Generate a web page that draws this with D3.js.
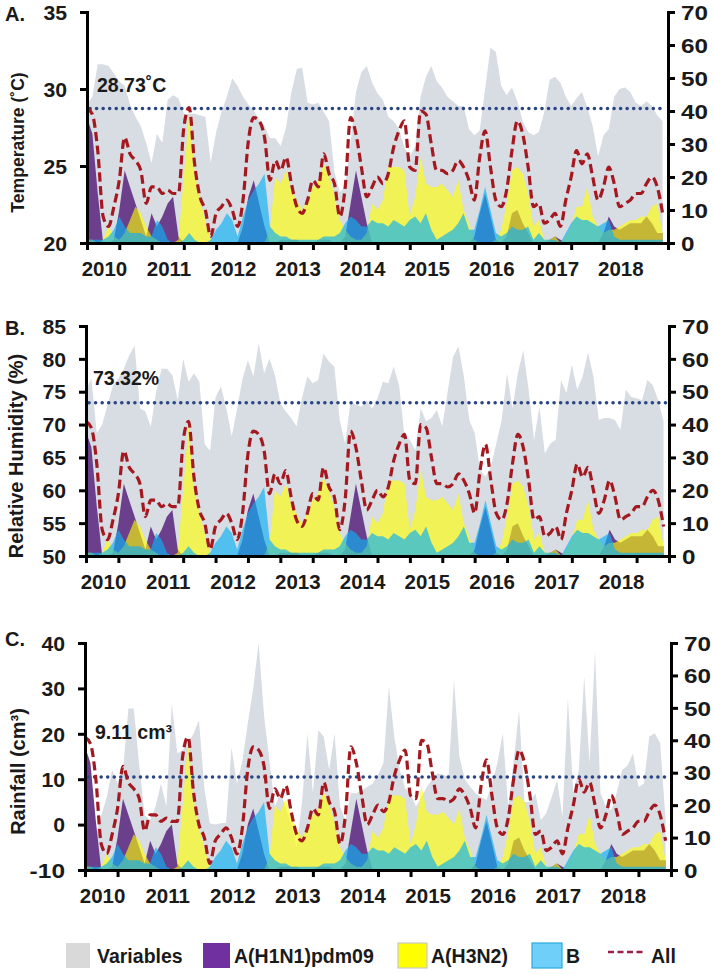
<!DOCTYPE html>
<html><head><meta charset="utf-8">
<script src="https://cdn.jsdelivr.net/npm/d3@7"></script>
<style>
body{margin:0;background:#fff}
svg{display:block}
text{font-family:"Liberation Sans",Arial,Helvetica,sans-serif}
</style>
</head><body>
<svg id="chart" width="714" height="974"></svg>
<script>
// ---------------- DATA ----------------
const years = [2010, 2011, 2012, 2013, 2014, 2015, 2016, 2017, 2018];
const xTickLabels = ["2010", "2011", "2012", "2013", "2014", "2015", "2016", "2017", "2018"];

// Influenza positives (right axis, 0-70), monthly Jan 2010 - Dec 2018
const allFlu = [
  41,39,28,8,5,11,19,32,27,25,22,12,
  17,17,15,16,15,15,35,41,24,14,10,2,
  9,11,13,10,5,13,31,38,37,32,19,25,
  22,26,18,11,9,13,19,17,27,21,18,8,
  17,38,33,23,14,17,20,18,21,29,34,37,
  23,22,40,39,30,22,22,21,22,25,23,19,
  13,26,34,23,13,11,16,28,37,33,23,11,
  12,6,7,9,5,13,20,28,24,27,20,13,
  17,23,18,11,12,13,15,15,18,20,17,9
];
const h1n1 = [
  38,33,15,0,0,1,10,22,17,12,7,2,
  9,5,8,12,14,2,0,0,0,0,0,0,
  0,0,0,0,0,5,14,19,12,5,0,0,
  1,1,1,1,0,0,0,1,1,1,0,0,
  2,12,22,14,6,0,0,0,0,0,0,0,
  0,0,0,0,0,0,0,0,0,0,0,0,
  2,9,15,8,1,0,2,9,10,6,3,0,
  0,0,1,2,1,0,0,0,0,0,0,0,
  3,8,5,4,5,6,6,6,8,6,3,3
];
const h3n2 = [
  1,1,0,1,5,2,1,3,7,11,9,5,
  2,1,0,0,0,1,20,40,22,13,7,1,
  0,0,0,0,0,0,0,0,0,0,4,20,
  18,22,16,13,10,13,17,19,24,20,15,7,
  4,2,1,1,3,12,10,13,23,23,23,22,
  8,14,26,18,17,17,18,16,14,19,10,6,
  1,0,0,0,1,4,12,22,23,21,15,5,
  7,1,1,2,0,2,5,11,11,17,8,5,
  3,4,4,5,6,7,7,8,8,11,12,3
];
const fluB = [
  1,1,1,1,2,4,8,5,3,3,3,2,
  2,7,5,1,0,0,1,3,1,0,0,1,
  4,6,9,7,2,8,13,16,18,21,5,3,
  2,2,1,1,1,1,1,1,2,2,2,3,
  6,8,7,5,5,7,6,6,5,7,6,5,
  7,8,6,9,4,1,2,3,4,6,9,4,
  4,10,17,10,3,2,3,5,4,4,5,1,
  3,1,1,1,0,3,6,8,7,7,6,5,
  6,7,2,1,1,1,1,1,1,1,1,1
];

// Environmental variables (left axes)
const temperature = [
  29,29.5,31.6,31.6,31.5,31,30.5,30.2,29,28.2,27.6,26.5,
  25.2,27.1,26.5,29.3,29.6,29.4,28.4,28.4,28.4,28.3,28.2,25.2,
  27.2,28.5,29.5,30.7,30.2,29.5,29,28.6,28,27.6,26.8,26.8,
  26.3,27.5,29.8,31.3,31.4,29.1,29,29.1,28.5,27.9,24.6,23.3,
  23.7,26.5,29.8,31.1,31.5,30.4,29.7,29.3,28.2,27.9,27.4,26.2,
  25.6,26.3,29.5,30.8,31.5,30.5,30.1,29.5,29.2,28.9,28.9,27.4,
  27,27.3,30,32.7,32.4,30.2,29.6,30.1,29.2,27.9,27.2,27,
  27.2,28.5,30.6,30.8,30.4,29.5,28.9,29.4,29.8,28.8,27.6,25.6,
  27,27.4,29.5,30,30.1,29.8,29.1,28.9,29.2,28.9,28.3,27.9
];
const humidity = [
  75.3,77,68.7,70,73,76,77,78.5,80.5,82,72.5,72,
  69.7,75,78.5,78.5,77.5,73.7,80,76.5,77.8,76.5,67,66,
  74.2,75.8,72.5,68.2,72.5,77,79.8,77.3,82.4,77.8,80,77.5,
  73.2,72,71,69.7,74,77.3,76.3,76.8,80.8,79.6,78.8,70.7,
  67.1,73.5,73,72.7,73.7,72.4,74,76.5,76.3,78.8,76,68.2,
  67.7,66.1,72.5,70.5,71,72.2,69.7,75,80.3,81.9,77.3,70.7,
  68.7,63.1,62.1,63.6,67.1,70.7,77.8,72.5,77.8,81.3,75.3,67.7,
  72.7,65.6,67.1,67.7,76.8,74.8,79.1,75.3,77.3,81,77.3,70.7,
  71,71,70.7,69.2,75.3,74.2,74,73.7,76.8,76,73.7,70.5
];
const rainfall = [
  2,1,-2,2,6,12,9,12,25.6,25.6,13,2,
  1,4,9,4,26.7,15.7,16.4,18,20,23,8,0.3,
  0,0.3,0.4,17,9,14,22.3,30,40,24,14,4,
  6.9,4,0,-5,5,20,7,20.8,19.4,12,20,4,
  1,7,6.9,7.5,8.3,9,11,13.5,30.4,19.4,12,8,
  6.9,4,6,8.3,10,11.3,11,10.5,31.9,15,10,8.3,
  6.9,6,5.4,9,13.5,20.1,4,14,25.2,5,5,6.9,
  1,2.5,6,9.8,1.7,27.8,6.9,12,32.6,13.5,38.1,6.9,
  4,3.2,7,12,13,15.7,8.3,9,19.4,20.1,18,1
];

const tempTicks = [20, 25, 30, 35];
const humTicks = [50, 55, 60, 65, 70, 75, 80, 85];
const rainTicks = [-10, 0, 10, 20, 30, 40];
const rightTicks = [0, 10, 20, 30, 40, 50, 60, 70];

const refValues = [28.73, 73.32, 10.5];
const refLabels = ["28.73\u02DAC", "73.32%", "9.11 cm\u00B3"];
const panelLetters = ["A.", "B.", "C."];
const axisTitles = ["Temperature (\u02DAC)", "Relative Humidity (%)", "Rainfall (cm\u00B3)"];
const legendLabels = ["Variables", "A(H1N1)pdm09", "A(H3N2)", "B", "All"];

// ---------------- LAYOUT ----------------
const dates = [];
years.forEach(y => { for (let m = 0; m < 12; m++) dates.push(y + m / 12); });
const halfYearTicks = [];
years.concat([2019]).forEach(y => { halfYearTicks.push(y); if (y < 2019) halfYearTicks.push(y + 0.5); });

const panels = [
  {env: temperature, domain: [20, 35], ticks: tempTicks, x0: 87, x1: 668, yTop: 12, yBot: 243,
   labelDy: -17, labelX: 97, titleSize: 17.6, titleX: 24, letterY: 21},
  {env: humidity, domain: [50, 85], ticks: humTicks, x0: 86, x1: 669, yTop: 326, yBot: 556,
   labelDy: -18, labelX: 93, titleSize: 20, titleX: 23, letterY: 335},
  {env: rainfall, domain: [-10, 40], ticks: rainTicks, x0: 85, x1: 671, yTop: 643, yBot: 870,
   labelDy: -38, labelX: 95, titleSize: 20, titleX: 25, letterY: 646}
];

const COL = {
  gray: "#d8dce3", purple: "#6b3f8c", yellow: "#ffff00", blue: "rgb(12,178,243)",
  all: "#a3191f", ref: "#2a4584"
};
const FONT = '"Liberation Sans",Arial,Helvetica,sans-serif';

const svg = d3.select("#chart");

panels.forEach((cfg, p) => {
  const g = svg.append("g");
  const x = d3.scaleLinear().domain([2010, 2019]).range([cfg.x0, cfg.x1]);
  const yL = d3.scaleLinear().domain(cfg.domain).range([cfg.yBot, cfg.yTop]);
  const yR = d3.scaleLinear().domain([0, 70]).range([cfg.yBot, cfg.yTop]);

  const envArea = d3.area().x((d, i) => x(dates[i])).y0(yL(cfg.domain[0])).y1(d => yL(d));
  const fluArea = d3.area().x((d, i) => x(dates[i])).y0(yR(0)).y1(d => yR(d));

  g.append("path").datum(cfg.env).attr("d", envArea).attr("fill", COL.gray);
  g.append("path").datum(h1n1).attr("d", fluArea).attr("fill", COL.purple);
  g.append("path").datum(h3n2).attr("d", fluArea).attr("fill", COL.yellow).attr("fill-opacity", 0.62);
  g.append("path").datum(fluB).attr("d", fluArea).attr("fill", COL.blue).attr("fill-opacity", 0.66);

  // reference dotted line
  const ry = yL(refValues[p]);
  g.append("line").attr("x1", cfg.x0 + 3).attr("x2", cfg.x1 - 2).attr("y1", ry).attr("y2", ry)
    .attr("stroke", COL.ref).attr("stroke-width", 3.5).attr("stroke-linecap", "round")
    .attr("stroke-dasharray", "0.1,6.45");
  g.append("text").attr("x", cfg.labelX).attr("y", ry + cfg.labelDy)
    .attr("font-family", FONT).attr("font-size", 19.5).attr("font-weight", "bold")
    .attr("fill", "#1a1a1a").text(refLabels[p]);

  // All line
  const line = d3.line().x((d, i) => x(dates[i])).y(d => yR(d)).curve(d3.curveMonotoneX);
  g.append("path").datum(allFlu).attr("d", line).attr("fill", "none")
    .attr("stroke", COL.all).attr("stroke-width", 3.2).attr("stroke-dasharray", "9,4.5");

  // axes
  const styleAxis = sel => {
    sel.attr("font-family", FONT);
    sel.select(".domain").attr("stroke", "#000").attr("stroke-width", 3).attr("stroke-linecap", "square");
    sel.selectAll(".tick line").attr("stroke", "#000").attr("stroke-width", 3);
    sel.selectAll("text").attr("fill", "#1a1a1a").attr("font-weight", "bold");
  };
  const gxAxis = g.append("g").attr("transform", `translate(0,${cfg.yBot})`)
    .call(d3.axisBottom(x).tickValues(halfYearTicks).tickFormat("").tickSize(7).tickSizeOuter(0));
  styleAxis(gxAxis);
  g.selectAll(".yearlab").data(years).enter().append("text")
    .attr("x", d => x(d + 0.27)).attr("y", cfg.yBot + 33)
    .attr("text-anchor", "middle").attr("font-family", FONT).attr("font-size", 20.5)
    .attr("font-weight", "bold").attr("fill", "#1a1a1a")
    .text((d, i) => xTickLabels[i]);

  const gl = g.append("g").attr("transform", `translate(${cfg.x0},0)`)
    .call(d3.axisLeft(yL).tickValues(cfg.ticks).tickFormat(d => String(d)).tickSize(7).tickPadding(13).tickSizeOuter(0));
  styleAxis(gl);
  gl.selectAll("text").attr("font-size", 20).attr("dy", "0.36em")
    .attr("textLength", d => String(d).length * 11.8).attr("lengthAdjust", "spacingAndGlyphs");

  const gr = g.append("g").attr("transform", `translate(${cfg.x1},0)`)
    .call(d3.axisRight(yR).tickValues(rightTicks).tickSize(7).tickPadding(6).tickSizeOuter(0));
  styleAxis(gr);
  gr.selectAll("text").attr("font-size", 20).attr("dy", "0.36em")
    .attr("textLength", d => String(d).length * 13.5).attr("lengthAdjust", "spacingAndGlyphs");

  // panel letter and axis title
  g.append("text").attr("x", 5).attr("y", cfg.letterY).attr("font-family", FONT)
    .attr("font-size", 20).attr("font-weight", "bold").attr("fill", "#1a1a1a").text(panelLetters[p]);
  g.append("text").attr("transform", `translate(${cfg.titleX},${(cfg.yTop + cfg.yBot) / 2 + 15}) rotate(-90)`)
    .attr("text-anchor", "middle").attr("font-family", FONT).attr("font-size", cfg.titleSize)
    .attr("font-weight", "bold").attr("fill", "#1a1a1a")
    .text(axisTitles[p]);
});

// ---------------- LEGEND ----------------
const lg = svg.append("g");
const legY = 943, legH = 25, legBase = 963;
const legItems = [
  {type: "rect", x: 66, w: 24, fill: "#d9d9d9", stroke: "none", tx: 97},
  {type: "rect", x: 203, w: 27, fill: "#7030a0", stroke: "none", tx: 234},
  {type: "rect", x: 398, w: 29, fill: "#ffff00", stroke: "#c8c8c8", tx: 431},
  {type: "rect", x: 532, w: 30, fill: "#70cff8", stroke: "#2aa8e0", tx: 566},
  {type: "line", x: 608, w: 37, tx: 651}
];
legItems.forEach((it, i) => {
  if (it.type === "rect") {
    lg.append("rect").attr("x", it.x).attr("y", legY).attr("width", it.w).attr("height", legH)
      .attr("fill", it.fill).attr("stroke", it.stroke).attr("stroke-width", 1.2);
  } else {
    lg.append("line").attr("x1", it.x).attr("x2", it.x + it.w).attr("y1", 952).attr("y2", 952)
      .attr("stroke", "#9b1d4b").attr("stroke-width", 2.6).attr("stroke-dasharray", "6,3.5");
  }
  lg.append("text").attr("x", it.tx).attr("y", legBase).attr("font-family", FONT)
    .attr("font-size", 19.5).attr("font-weight", "bold").attr("fill", "#1a1a1a").text(legendLabels[i]);
});
</script>
</body></html>
